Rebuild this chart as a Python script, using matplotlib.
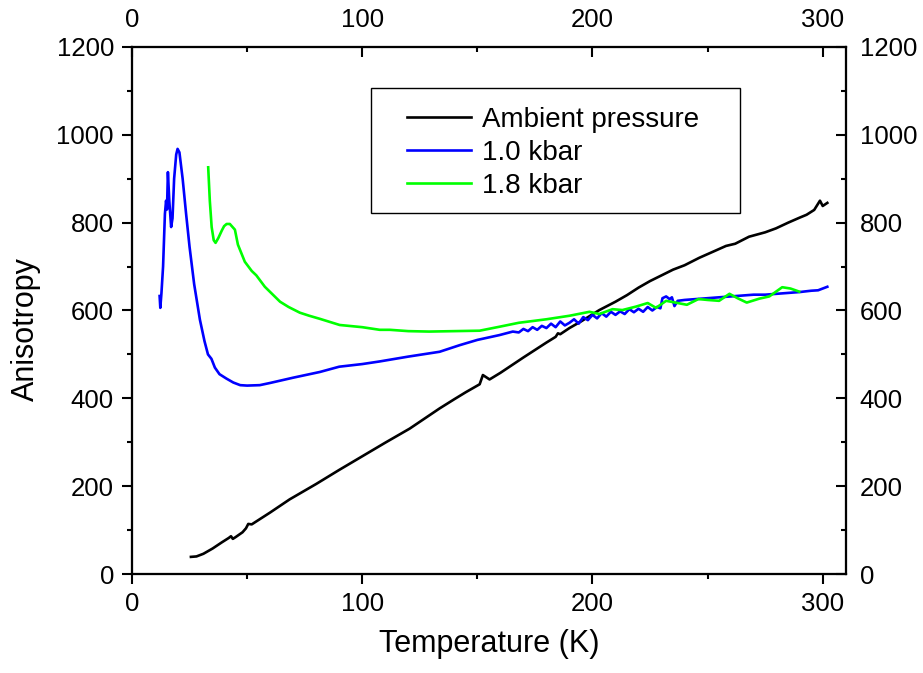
import matplotlib.pyplot as plt
from matplotlib.ticker import MultipleLocator
from matplotlib.patches import Rectangle

plt.rcParams['font.family'] = ['Liberation Sans', 'DejaVu Sans']

# Ambient pressure
t_amb = [25.6, 28, 31, 35, 39, 42, 43, 43.8, 45, 48, 49.5, 50.5, 52, 60, 68.5, 80, 90, 100,
         110, 120.6, 133.6, 140, 145, 151, 152.4, 155.3, 160, 170, 180, 184, 185, 186, 190,
         195, 203, 210, 215, 220, 225, 230.4, 235, 240, 246.4, 252, 258, 262, 268, 275,
         279.7, 285, 289.8, 293, 296.3, 298.8, 300, 302]
a_amb = [39, 40, 46, 58, 72, 82, 86, 80, 84, 95, 104, 114, 113, 140, 170, 205, 237, 268,
         299, 331, 377, 398, 414, 432, 453, 443, 458, 493, 527, 540, 548, 546, 560,
         575, 601, 620, 635, 652, 667, 681, 693, 703, 720, 733, 747, 752, 768, 778,
         787, 800, 811, 818, 829, 850, 838, 845]

# 1.0 kbar
t_10 = [12.0, 12.3, 12.8, 13.5, 14.3, 14.8, 15.2, 15.6, 16.2, 17.0, 17.6, 18.3, 19.2, 19.8,
        20.6, 22, 23.5, 25, 27, 29.5, 31.5, 33, 34.5, 36, 38, 41, 44, 47, 50, 55.5, 60, 70,
        81.6, 90, 100, 107.6, 120, 133.6, 142.3, 150, 159.6, 165.4, 168, 170, 172, 174, 176,
        178, 180, 182, 184, 186, 188, 190, 192, 194, 196, 198, 200, 202, 204, 206, 208, 210,
        212, 214, 216, 218, 220, 222, 224, 226, 228, 229.5, 230.4, 232, 233.5, 234.5, 235.6,
        237, 240, 245, 250, 255, 260, 265, 270, 275, 280, 285, 290, 295, 298, 300, 302]
a_10 = [633, 606, 640, 700, 820, 850, 830, 915, 850, 790, 810, 900, 955, 968,
        960, 900, 820, 745, 660, 579, 530, 500, 490, 470, 455, 445, 436, 430, 429, 430, 435, 447,
        460, 472, 478, 484, 495, 506, 521, 533, 544, 552, 550, 558, 553, 562, 556,
        565, 560, 570, 562, 575, 566, 572, 580, 570, 585, 578, 590, 582, 594, 586, 597, 590,
        598, 592, 603, 596, 604, 597, 608, 600, 608, 605, 628, 632, 626, 630, 610,
        622, 624, 626, 628, 630, 632, 634, 636, 636, 638, 640, 642, 645, 646, 650, 654]

# 1.8 kbar
t_18 = [33.1, 33.8, 34.6, 35.5, 36.3, 37.5, 39, 40, 41.1, 42.5, 44.7, 46, 49, 52, 54, 57.7,
        61, 64.3, 68, 72.9, 77, 81.6, 90.2, 100, 107.6, 112, 120, 129, 140, 151, 159.6, 168,
        180, 190, 198.7, 203, 208.7, 213, 219, 224, 227.6, 232, 236, 241, 246, 250, 255,
        259.5, 263, 267, 272.5, 276.8, 282.4, 286, 289.8]
a_18 = [926, 850, 790, 760, 754, 765, 782, 792, 797, 797, 784, 750, 711, 690, 680, 654,
        637, 620, 608, 595, 588, 581, 567, 562, 556, 556, 553, 552, 553, 554, 563, 572,
        580, 588, 597, 592, 603, 601, 609, 617, 606, 622, 618, 613, 626, 624, 622,
        638, 628, 618, 627, 632, 653, 650, 643]

fig = plt.figure(figsize=(9.23, 6.73), dpi=100)
ax = fig.add_axes([0.143, 0.1471, 0.7733, 0.7831])

ax.plot(t_amb, a_amb, color='black', lw=1.9, label='Ambient pressure')
ax.plot(t_10, a_10, color='#0000ff', lw=1.9, label='1.0 kbar')
ax.plot(t_18, a_18, color='#00ff00', lw=1.9, label='1.8 kbar')

ax.set_xlim(0, 310)
ax.set_ylim(0, 1200)

# top and right axes mirror the bottom and left ones
top = ax.twiny()
right = ax.twinx()
top.set_xlim(ax.get_xlim())
right.set_ylim(ax.get_ylim())

for a in (ax, top):
    a.xaxis.set_major_locator(MultipleLocator(100))
    a.xaxis.set_minor_locator(MultipleLocator(50))
for a in (ax, right):
    a.yaxis.set_major_locator(MultipleLocator(200))
    a.yaxis.set_minor_locator(MultipleLocator(100))

for a in (ax, top, right):
    for s in a.spines.values():
        s.set_linewidth(1.5)

ax.tick_params(which='major', direction='out', length=7, width=1.5, labelsize=18.5, pad=6)
ax.tick_params(which='minor', direction='out', length=3.5, width=1.5)
top.tick_params(which='major', direction='in', length=7, width=1.5, labelsize=18.5, pad=11)
top.tick_params(which='minor', direction='in', length=3.5, width=1.5)
right.tick_params(which='major', direction='in', length=7, width=1.5, labelsize=18.5, pad=10)
right.tick_params(which='minor', direction='in', length=3.5, width=1.5)

ax.set_xlabel('Temperature (K)', fontsize=22, labelpad=9)
ax.set_ylabel('Anisotropy', fontsize=22)
ax.yaxis.set_label_coords(-0.127, 0.465)

# legend box, Origin style
ax.add_patch(Rectangle((0.3347, 0.685), 0.5168, 0.2372, transform=ax.transAxes,
                       fill=True, facecolor='white', edgecolor='black', lw=1.0, zorder=4))
leg = ax.legend(loc='center left', bbox_to_anchor=(0.386, 0.7989), fontsize=20,
                frameon=False, handlelength=2.3, borderpad=0, borderaxespad=0,
                labelspacing=0.25, handletextpad=0.4)
leg.set_zorder(5)

fig.savefig('out.png', dpi=100)
